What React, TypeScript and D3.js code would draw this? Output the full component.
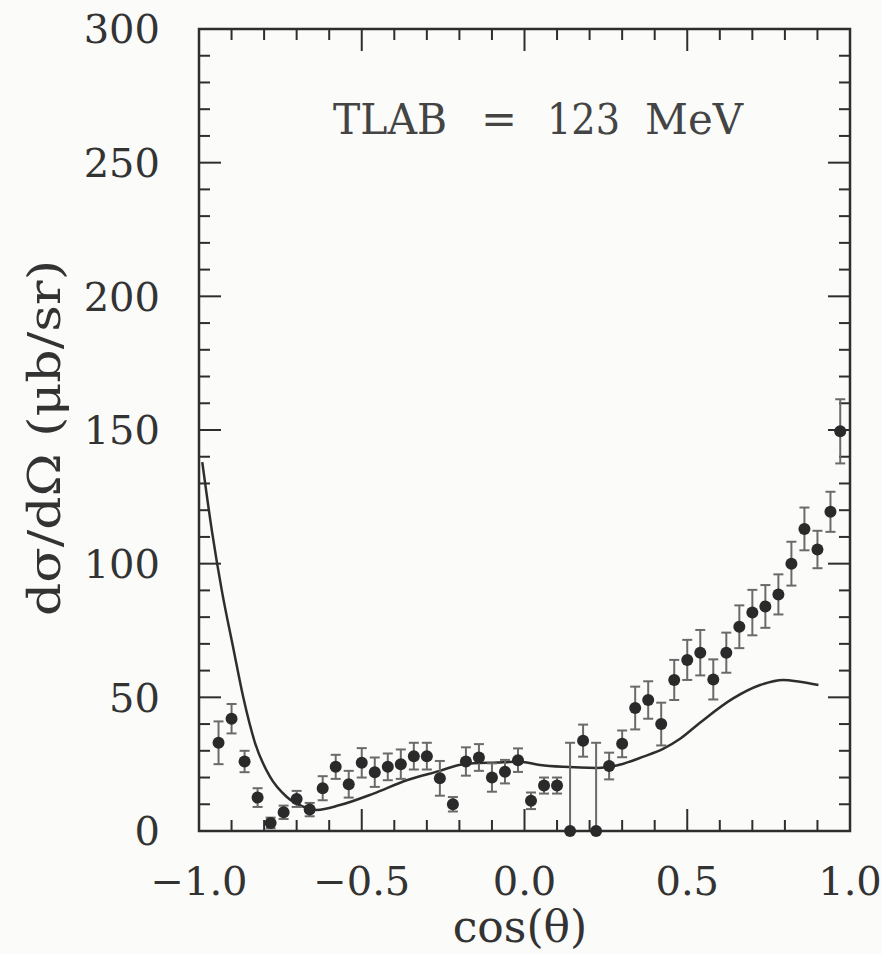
import React from "react";
import { scaleLinear, line, curveMonotoneX, range } from "d3";

// measured points, cos(theta) bins
const cosTheta = [
  -0.94, -0.9, -0.86, -0.82, -0.78, -0.74, -0.7, -0.66, -0.62, -0.58, -0.54, -0.5,
  -0.46, -0.42, -0.38, -0.34, -0.3, -0.26, -0.22, -0.18, -0.14, -0.1, -0.06, -0.02,
  0.02, 0.06, 0.1, 0.14, 0.18, 0.22, 0.26, 0.3, 0.34, 0.38, 0.42, 0.46, 0.5, 0.54,
  0.58, 0.62, 0.66, 0.7, 0.74, 0.78, 0.82, 0.86, 0.9, 0.94, 0.97,
];
const crossSection = [
  33, 42, 26, 12.5, 3, 7, 12, 8, 16, 24, 17.5, 25.5, 22, 24, 25, 28, 28, 19.7, 10,
  26, 27.5, 20, 22.2, 26.5, 11.3, 17, 17, 0, 33.8, 0, 24.3, 32.6, 46, 49, 40, 56.5,
  64, 66.7, 56.7, 66.7, 76.4, 81.7, 84, 88.5, 100, 113, 105.3, 119.4, 149.5,
];
const errors = [
  8, 5.5, 4, 3.5, 2, 2.5, 3, 2.5, 4.5, 4.5, 5, 5.5, 5.5, 5, 5.5, 5, 5, 6.5, 2.7,
  5.3, 5, 5.3, 4.4, 4.4, 3.1, 3, 3, 33, 6, 33, 5, 5, 8, 7, 8, 7.5, 7.5, 8.5, 7.5,
  7.5, 8, 8.5, 8, 7.5, 8.2, 8, 7, 7.5, 12,
];

// model curve
const curveX = [
  -0.99, -0.96, -0.93, -0.894, -0.864, -0.828, -0.782, -0.731, -0.68, -0.638, -0.567,
  -0.464, -0.362, -0.26, -0.188, -0.085, -0.014, 0.048, 0.119, 0.222, 0.283, 0.365,
  0.427, 0.478, 0.539, 0.641, 0.724, 0.795, 0.846, 0.903,
];
const curveY = [
  138, 112, 90, 68, 50, 33, 20.3, 12.8, 9.1, 7.9, 9.7, 14, 19, 22.5, 25, 25.6, 25.9,
  24.7, 24, 23.6, 24.5, 27.8, 30.8, 34.5, 40.5, 49.6, 54.6, 56.5, 55.8, 54.6,
];

const xTicks = [-1.0, -0.5, 0.0, 0.5, 1.0];
const xTickLabels = ["\u22121.0", "\u22120.5", "0.0", "0.5", "1.0"];
const yTicks = [0, 50, 100, 150, 200, 250, 300];

const W = 882, H = 954;
const left = 199, right = 850, top = 29, bottom = 831;
const font = "'DejaVu Serif', serif";
const ink = "#2e2e2e";

export default function App() {
  const x = scaleLinear().domain([-1, 1]).range([left, right]);
  const y = scaleLinear().domain([0, 300]).range([bottom, top]);

  const model = line<number>()
    .x((_, i) => x(curveX[i]))
    .y((d) => y(d))
    .curve(curveMonotoneX);

  const xMinor = range(-10, 11).map((v) => v / 10);
  const yMinor = range(0, 31).map((v) => v * 10);

  return (
    <svg width={W} height={H} style={{ position: "absolute", left: 0, top: 0 }}>
      <rect width={W} height={H} fill="#fbfbf9" />

      {/* ticks */}
      <g stroke={ink} strokeWidth={2}>
        {xMinor.map((v, i) => {
          const major = Math.abs(v * 2 - Math.round(v * 2)) < 1e-6;
          const len = major ? 22 : 11;
          return (
            <g key={"xt" + i}>
              <line x1={x(v)} x2={x(v)} y1={bottom} y2={bottom - len} />
              <line x1={x(v)} x2={x(v)} y1={top} y2={top + len} />
            </g>
          );
        })}
        {yMinor.map((v, i) => {
          const len = v % 50 === 0 ? 22 : 11;
          return (
            <g key={"yt" + i}>
              <line x1={left} x2={left + len} y1={y(v)} y2={y(v)} />
              <line x1={right} x2={right - len} y1={y(v)} y2={y(v)} />
            </g>
          );
        })}
      </g>

      {/* frame */}
      <rect x={left} y={top} width={right - left} height={bottom - top}
        fill="none" stroke={ink} strokeWidth={2.5} />

      {/* model curve */}
      <path d={model(curveY) || ""} fill="none" stroke={ink} strokeWidth={2.5} />

      {/* error bars */}
      <g stroke="#6a6a6a" strokeWidth={2}>
        {cosTheta.map((c, i) => {
          const lo = Math.max(0, crossSection[i] - errors[i]);
          const hi = crossSection[i] + errors[i];
          return (
            <g key={"e" + i}>
              <line x1={x(c)} x2={x(c)} y1={y(lo)} y2={y(hi)} />
              <line x1={x(c) - 5} x2={x(c) + 5} y1={y(hi)} y2={y(hi)} />
              {lo > 0 && <line x1={x(c) - 5} x2={x(c) + 5} y1={y(lo)} y2={y(lo)} />}
            </g>
          );
        })}
      </g>

      {/* points */}
      <g fill="#2a2a2a">
        {cosTheta.map((c, i) => (
          <circle key={"p" + i} cx={x(c)} cy={y(crossSection[i])} r={6} />
        ))}
      </g>

      {/* tick labels */}
      <g fontFamily={font} fontSize={40} fill="#333">
        {yTicks.map((v) => (
          <text key={"yl" + v} x={160} y={y(v)} dy="0.36em" textAnchor="end">{v}</text>
        ))}
        {xTicks.map((v, i) => (
          <text key={"xl" + v} x={x(v)} y={895} textAnchor="middle">{xTickLabels[i]}</text>
        ))}
        <text x={520} y={942} fontSize={44} textAnchor="middle">cos(θ)</text>
        <text transform="translate(60,438) rotate(-90)" textAnchor="middle"
          fontSize={45} textLength={356} lengthAdjust="spacingAndGlyphs">
          dσ/dΩ  (μb/sr)
        </text>
      </g>

      {/* annotation, written as separate words like the original */}
      <g fontFamily={font} fontSize={43} fill="#444">
        <text x={333} y={134} textLength={114} lengthAdjust="spacingAndGlyphs">TLAB</text>
        <text x={499} y={134} textAnchor="middle">=</text>
        <text x={547} y={134} textLength={73} lengthAdjust="spacingAndGlyphs">123</text>
        <text x={645} y={134} textLength={98} lengthAdjust="spacingAndGlyphs">MeV</text>
      </g>
    </svg>
  );
}
